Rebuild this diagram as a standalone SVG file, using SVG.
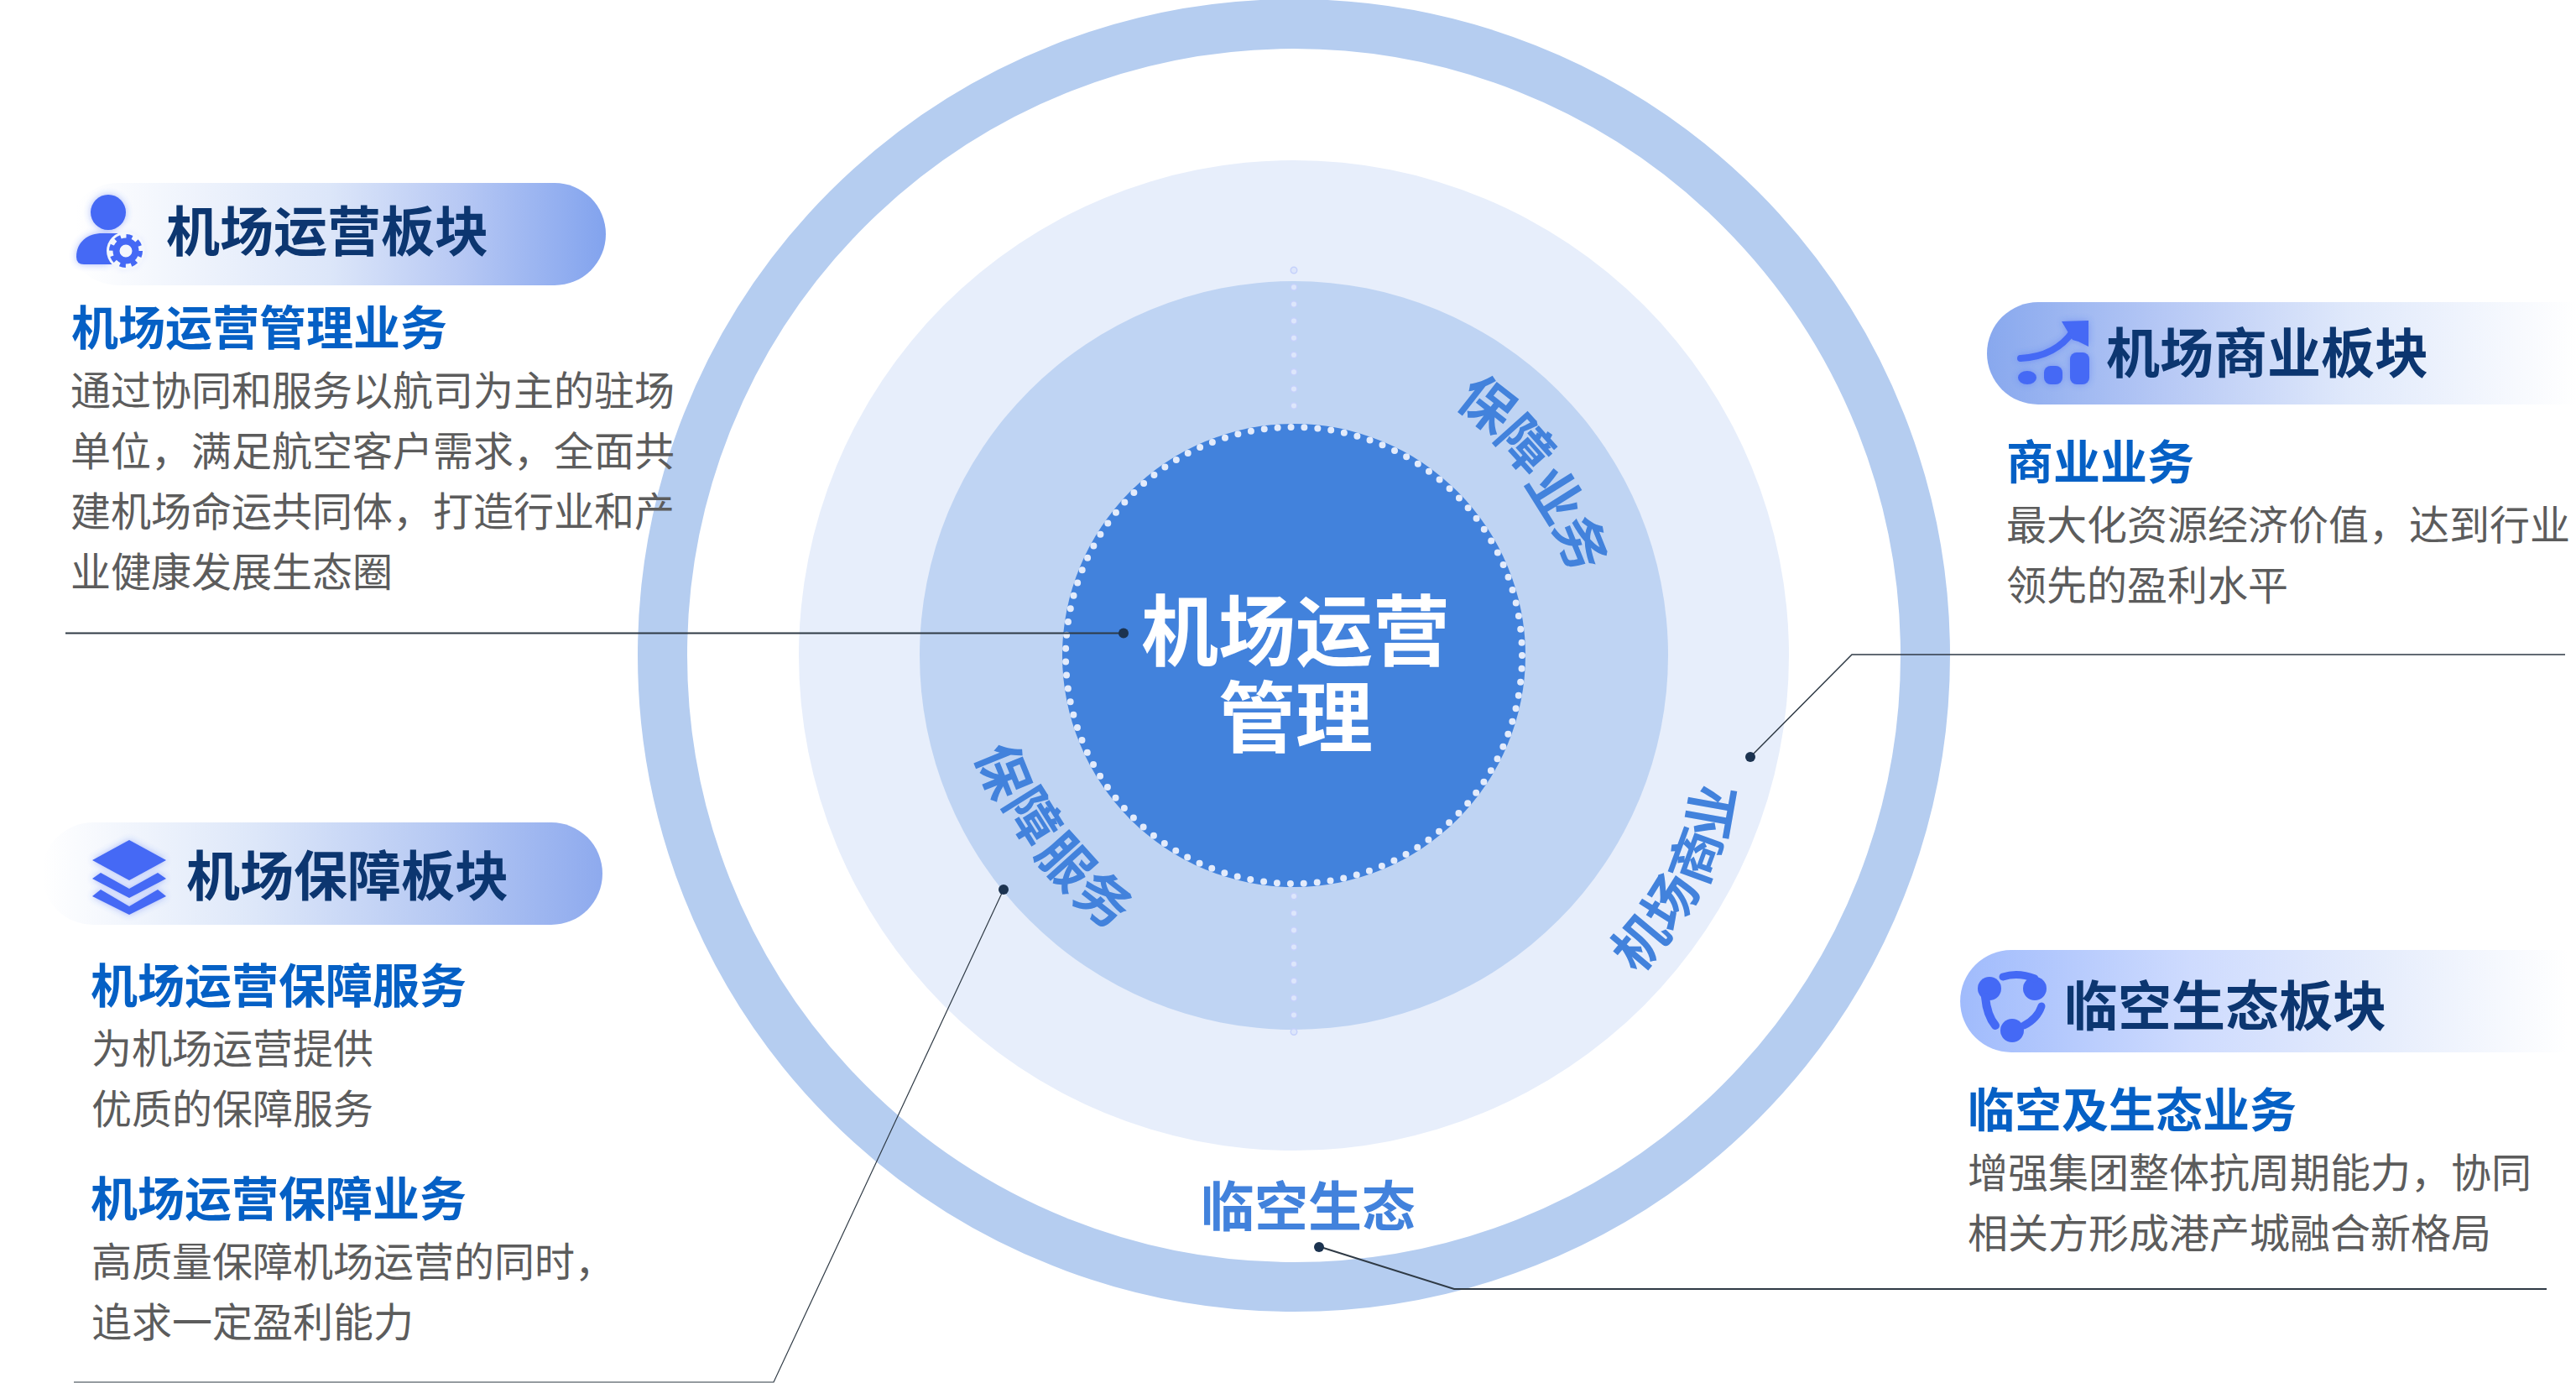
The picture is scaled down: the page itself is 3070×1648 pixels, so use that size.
<svg xmlns="http://www.w3.org/2000/svg" width="3070" height="1648" viewBox="0 0 3070 1648">
<defs>
<style>
text{font-family:"Noto Sans CJK SC","Noto Sans",sans-serif}
.title{font-size:64px;font-weight:700;fill:#0c3670}
.sub{font-size:56px;font-weight:700;fill:#0560c5}
.body{font-size:48px;font-weight:400;fill:#5c5c5c}
.arc{font-size:64px;font-weight:700;fill:#4282dc;text-anchor:middle}
.center{font-size:92px;font-weight:700;fill:#fff;text-anchor:middle}
.lead{fill:none;stroke:#2f3a45}
.dot{fill:#1c3350}
.ico{fill:#4469f5}
.icos{fill:none;stroke:#4469f5;stroke-linecap:round}
</style>
<linearGradient id="g1" gradientUnits="userSpaceOnUse" x1="90" y1="0" x2="722" y2="0"><stop offset="0" stop-color="#fff"/><stop offset=".48" stop-color="#dce6f9"/><stop offset=".72" stop-color="#b8c9f4"/><stop offset="1" stop-color="#82a3ee"/></linearGradient>
<linearGradient id="g2" gradientUnits="userSpaceOnUse" x1="2368" y1="0" x2="3070" y2="0"><stop offset="0" stop-color="#88a8ee"/><stop offset=".3" stop-color="#b6c8f5"/><stop offset=".62" stop-color="#e0e9fb"/><stop offset="1" stop-color="#fff"/></linearGradient>
<linearGradient id="g3" gradientUnits="userSpaceOnUse" x1="50" y1="0" x2="718" y2="0"><stop offset="0" stop-color="#fff"/><stop offset=".38" stop-color="#dde7f9"/><stop offset=".72" stop-color="#b5c8f3"/><stop offset="1" stop-color="#8eaaee"/></linearGradient>
<linearGradient id="g4" gradientUnits="userSpaceOnUse" x1="2336" y1="0" x2="3060" y2="0"><stop offset="0" stop-color="#a0bbfc"/><stop offset=".38" stop-color="#cedbfe"/><stop offset=".7" stop-color="#e6edfc"/><stop offset="1" stop-color="#fff"/></linearGradient>
<filter id="glow" x="-30%" y="-30%" width="160%" height="160%"><feGaussianBlur in="SourceGraphic" stdDeviation="4" result="b"/><feComponentTransfer in="b" result="c"><feFuncA type="linear" slope=".45"/></feComponentTransfer><feMerge><feMergeNode in="c"/><feMergeNode in="SourceGraphic"/></feMerge></filter>
</defs>
<rect width="3070" height="1648" fill="#fff"/>
<g id="rings">
<circle cx="1542" cy="781" r="752.5" fill="none" stroke="#b5cdf0" stroke-width="59"/>
<circle cx="1542" cy="781" r="590" fill="#e7eefb"/>
<circle cx="1542" cy="781" r="446" fill="#bfd4f3"/>
<g fill="none" stroke-linecap="round">
<line x1="1542" y1="322" x2="1542" y2="503" stroke="#c5d1fb" stroke-width="9" stroke-dasharray="0 20.2"/>
<line x1="1542" y1="322" x2="1542" y2="503" stroke="#dde6fb" stroke-width="6" stroke-dasharray="0 20.2"/>
<line x1="1542" y1="1068" x2="1542" y2="1232" stroke="#c5d1fb" stroke-width="9" stroke-dasharray="0 20.2"/>
<line x1="1542" y1="1068" x2="1542" y2="1232" stroke="#dde6fb" stroke-width="6" stroke-dasharray="0 20.2"/>
</g>
</g>
<g id="node-center">
<circle cx="1542" cy="781" r="276" fill="#4282dc"/>
<circle cx="1542" cy="781" r="272" fill="none" stroke="#e3ebfb" stroke-width="8" stroke-linecap="round" stroke-dasharray="0 15.972"/>
<text class="center" x="1544" y="786">机场运营</text>
<text class="center" x="1544" y="889">管理</text>
</g>
<g id="label-baozhang-yewu">
<text class="arc" transform="translate(1772 482) rotate(38)" y="23">保</text>
<text class="arc" transform="translate(1818 530) rotate(48)" y="23">障</text>
<text class="arc" transform="translate(1853 590) rotate(58)" y="23">业</text>
<text class="arc" transform="translate(1884 647) rotate(68)" y="23">务</text>
</g>
<g id="label-baozhang-fuwu">
<text class="arc" transform="translate(1195 919) rotate(68)" y="23">保</text>
<text class="arc" transform="translate(1231 973) rotate(58)" y="23">障</text>
<text class="arc" transform="translate(1270 1027) rotate(48)" y="23">服</text>
<text class="arc" transform="translate(1315 1072) rotate(38)" y="23">务</text>
</g>
<g id="label-jichang-shangye">
<text class="arc" transform="translate(1955 1123) rotate(-50)" y="23">机</text>
<text class="arc" transform="translate(1991 1074) rotate(-58)" y="23">场</text>
<text class="arc" transform="translate(2021 1020) rotate(-70)" y="23">商</text>
<text class="arc" transform="translate(2040 967) rotate(-80)" y="23">业</text>
</g>
<g id="label-linkong">
<text class="arc" x="1559" y="1461">临空生态</text>
</g>
<g id="connectors">
<path class="lead" stroke-width="2" d="M78 754.5H1339"/>
<path class="lead" stroke-width="1.5" d="M3057 780H2207L2086 902"/>
<path class="lead" stroke-width="1.2" d="M88 1647H922L1196 1060"/>
<path class="lead" stroke-width="2" d="M3035 1536H1733L1574 1486"/>
<circle class="dot" cx="1339" cy="754.5" r="6"/>
<circle class="dot" cx="2086" cy="902" r="6"/>
<circle class="dot" cx="1196" cy="1060" r="6"/>
<circle class="dot" cx="1572" cy="1486" r="6"/>
</g>
<g id="node-operations">
<rect x="80" y="218" width="642" height="122" rx="61" fill="url(#g1)"/>
<g filter="url(#glow)">
<circle class="ico" cx="129" cy="253" r="21"/>
<path class="ico" d="M91 306C91 288 105 278 122 278H140L148 280V315H100Q91 315 91 306Z"/>
<circle cx="150" cy="299" r="23" fill="#f4f7fd"/>
<circle cx="150" cy="299" r="11.5" fill="none" stroke="#4469f5" stroke-width="8"/>
<circle cx="150" cy="299" r="17" fill="none" stroke="#4469f5" stroke-width="6" stroke-dasharray="6.9 6.45"/>
</g>
<text class="title" x="198" y="299">机场运营板块</text>
<text class="sub" x="85" y="411">机场运营管理业务</text>
<text class="body" x="84" y="483">通过协同和服务以航司为主的驻场</text>
<text class="body" x="84" y="555">单位，满足航空客户需求，全面共</text>
<text class="body" x="84" y="627">建机场命运共同体，打造行业和产</text>
<text class="body" x="84" y="699">业健康发展生态圈</text>
</g>
<g id="node-commercial">
<path d="M2429 360H3070V482H2429A61 61 0 0 1 2429 360Z" fill="url(#g2)"/>
<g filter="url(#glow)">
<path class="icos" stroke-width="8" d="M2408 427Q2450 425 2471 394"/>
<polygon class="ico" points="2457,383 2489,382 2489,413 2477,407 2470,405"/>
<ellipse class="ico" cx="2416" cy="450" rx="11" ry="8"/>
<rect class="ico" x="2436" y="436" width="22" height="22" rx="8"/>
<rect class="ico" x="2467" y="420" width="23" height="38" rx="8"/>
</g>
<text class="title" x="2510" y="444">机场商业板块</text>
<text class="sub" x="2391" y="571">商业业务</text>
<text class="body" x="2391" y="643">最大化资源经济价值，达到行业</text>
<text class="body" x="2391" y="715">领先的盈利水平</text>
</g>
<g id="node-support">
<rect x="50" y="980" width="668" height="122" rx="61" fill="url(#g3)"/>
<g filter="url(#glow)">
<polygon class="ico" points="110,1025 154,1001 198,1025 154,1049"/>
<polygon class="ico" points="110,1047 120,1040 154,1059 188,1040 198,1047 154,1070"/>
<polygon class="ico" points="110,1068 120,1060 154,1080 188,1060 198,1068 154,1090"/>
</g>
<text class="title" x="222" y="1067">机场保障板块</text>
<text class="sub" x="108" y="1195">机场运营保障服务</text>
<text class="body" x="109" y="1267">为机场运营提供</text>
<text class="body" x="109" y="1339">优质的保障服务</text>
<text class="sub" x="108" y="1449">机场运营保障业务</text>
<text class="body" x="109" y="1521">高质量保障机场运营的同时，</text>
<text class="body" x="109" y="1593">追求一定盈利能力</text>
</g>
<g id="node-ecosystem">
<path d="M2397 1132H3060V1254H2397A61 61 0 0 1 2397 1132Z" fill="url(#g4)"/>
<g>
<circle class="ico" cx="2371" cy="1178" r="14"/>
<circle class="ico" cx="2425" cy="1178" r="14"/>
<circle class="ico" cx="2398" cy="1228" r="14"/>
<path class="icos" stroke-width="9" d="M2387 1164Q2405 1158 2425 1166"/>
<path class="icos" stroke-width="10" d="M2366 1188Q2368 1210 2378 1222"/>
<path class="icos" stroke-width="9" d="M2433 1199Q2428 1214 2412 1222"/>
</g>
<text class="title" x="2460" y="1222">临空生态板块</text>
<text class="sub" x="2345" y="1343">临空及生态业务</text>
<text class="body" x="2345" y="1415">增强集团整体抗周期能力，协同</text>
<text class="body" x="2345" y="1487">相关方形成港产城融合新格局</text>
</g>
</svg>
